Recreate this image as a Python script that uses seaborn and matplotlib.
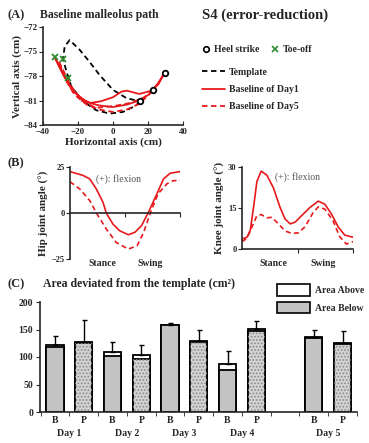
import numpy as np
import matplotlib
matplotlib.use("Agg")
import matplotlib.pyplot as plt
import seaborn as sns
import pandas as pd
from matplotlib.lines import Line2D
from matplotlib.patches import Patch, Rectangle

# panel A: malleolus paths (closed loops, cm)
tmpl_x = [15.2, 13.3, 5.7, -1.9, -9.5, -17.1, -23.8, -26.5, -28.6, -27.6, -24.8, -19, -13.3, -7.6, 0, 7.6, 15.2]
tmpl_y = [-81.1, -81.6, -82.4, -82.6, -82.2, -81.1, -79.3, -77.5, -75.9, -74.4, -73.6, -74.8, -76.3, -77.9, -79.7, -80.7, -81.1]
day1_x = [29.5, 26, 22, 15, 8, 5, 0, -7, -13, -18, -24, -29, -33.3, -28, -22, -15, -8, 0, 8, 15, 21, 26, 29.5]
day1_y = [-77.6, -79, -79.8, -80.2, -79.8, -79.9, -80.6, -81.1, -81.3, -80.8, -79.5, -77.6, -75.7, -78, -80, -81.2, -81.6, -81.8, -81.5, -81, -80.2, -78.8, -77.6]
day5_x = [22.9, 18, 10, 0, -10, -18, -24, -28, -31, -27, -22, -15, -8, 0, 8, 15, 20, 22.9]
day5_y = [-79.7, -80.6, -81.3, -81.7, -81.9, -81, -79.2, -77.5, -76.2, -78.5, -80.3, -81.5, -82.1, -82.4, -82.1, -81.4, -80.4, -79.7]
heel_x = [15.2, 22.9, 29.5]
heel_y = [-81.1, -79.7, -77.6]
toe_x = [-28.6, -33.3, -25.7]
toe_y = [-75.9, -75.7, -78.2]

# panel B: joint angles over the gait cycle (%)
hip1_x = [0, 12, 18, 24, 30, 33, 39, 45, 53, 59, 65, 71, 79, 85, 91, 100]
hip1_y = [22.5, 20.4, 18.5, 13, 5.8, 0, -6, -9.6, -11.8, -10.5, -6.9, 0, 10.4, 18.5, 21.6, 22.5]
hip5_x = [0, 9, 18, 24, 33, 42, 53, 61, 67, 73, 80, 88, 94, 100]
hip5_y = [17, 13, 6.7, 0, -8.7, -16, -19.6, -17.8, -10.5, 0, 10.4, 15.8, 17.6, 17.6]
knee1_x = [0, 4.5, 7.5, 10.4, 13.4, 17.3, 22.4, 28.4, 34.3, 38.8, 43.3, 47.8, 53.7, 61.2, 68.7, 74.6, 80.6, 86.6, 92.5, 100]
knee1_y = [3.7, 4.3, 6.9, 15.2, 24.7, 28.5, 27, 22.3, 15.2, 11, 9.2, 9.8, 12.2, 15.2, 17.5, 16.4, 12.8, 8.1, 5.1, 4.3]
knee5_x = [0, 4.5, 9, 13.4, 17.3, 22.4, 26.9, 32.8, 38.8, 44.8, 50.7, 56.7, 64.2, 68.7, 74.6, 82, 88, 94, 100]
knee5_y = [2.7, 3.9, 8.1, 12.2, 12.6, 11.4, 11.6, 9.2, 6.6, 5.7, 5.9, 8.1, 13.4, 15.4, 14.6, 10.4, 4.5, 1.8, 2.7]

# panel C: deviated area (cm^2)
bar_labels = ["B", "P", "B", "P", "B", "P", "B", "P", "B", "P"]
day_labels = ["Day 1", "Day 2", "Day 3", "Day 4", "Day 5"]
bar_pos = [0, 1, 2, 3, 4, 5, 6, 7, 9, 10]
area_below = [118, 126, 101, 96, 157.5, 128, 76, 148, 135, 124]
area_total = [122, 127, 110, 104, 159, 129, 88, 151, 136, 125]
area_err = [17, 40, 18, 17, 3, 21, 23, 14, 14, 22]

RED = "#e8191c"
GREEN = "#2e8b2e"
W, H = 369, 443

sns.set_style("ticks")
plt.rcParams["font.family"] = ["Liberation Serif", "DejaVu Serif"]
plt.rcParams["font.weight"] = "bold"
plt.rcParams["axes.linewidth"] = 1.2
plt.rcParams["hatch.linewidth"] = 0.8


def px(l, t, r, b):
    return [l / W, 1 - b / H, (r - l) / W, (b - t) / H]


def ftext(x, y, s, **kw):
    fig.text(x / W, 1 - y / H, s, **kw)


fig = plt.figure(figsize=(W / 100, H / 100), dpi=100)

# ---- (A) malleolus path
axA = fig.add_axes(px(43, 27, 183, 125))
sns.lineplot(x=tmpl_x, y=tmpl_y, sort=False, estimator=None, color="black", lw=1.3, ls=(0, (3, 2)), ax=axA)
sns.lineplot(x=day1_x, y=day1_y, sort=False, estimator=None, color=RED, lw=1.3, ax=axA)
sns.lineplot(x=day5_x, y=day5_y, sort=False, estimator=None, color=RED, lw=1.3, ls=(0, (3, 2)), ax=axA)
axA.plot(heel_x, heel_y, "o", mfc="white", mec="black", mew=1.3, ms=4)
axA.plot(toe_x, toe_y, "x", color=GREEN, mew=1.3, ms=4)
axA.set_xlim(-40, 40)
axA.set_ylim(-84, -72)
axA.set_xticks([-40, -20, 0, 20, 40])
axA.set_yticks([-84, -81, -78, -75, -72])
axA.tick_params(axis="x", direction="in", length=3, labelsize=6.5, pad=2)
axA.tick_params(axis="y", direction="out", length=3, labelsize=6.5, pad=1)
axA.set_xlabel("Horizontal axis (cm)", fontsize=8, fontweight="bold", labelpad=1)
axA.set_ylabel("Vertical axis (cm)", fontsize=8, fontweight="bold", labelpad=1)
sns.despine(ax=axA)

ftext(7, 15, "(A)", fontsize=9, va="center")
ftext(40, 15, "Baseline malleolus path", fontsize=8.5, va="center")
ftext(202, 15, "S4 (error-reduction)", fontsize=10.5, va="center")

mark_h = [Line2D([], [], ls="none", marker="o", mfc="white", mec="black", mew=1.2, ms=4),
          Line2D([], [], ls="none", marker="x", color=GREEN, mew=1.2, ms=4)]
fig.legend(mark_h, ["Heel strike", "Toe-off"], ncol=2, loc="center left",
           bbox_to_anchor=(196 / W, 1 - 50 / H), frameon=False, fontsize=7,
           handlelength=1, handletextpad=0.3, columnspacing=1.2, borderpad=0)
line_h = [Line2D([], [], color="black", lw=1.3, ls=(0, (3, 2))),
          Line2D([], [], color=RED, lw=1.3),
          Line2D([], [], color=RED, lw=1.3, ls=(0, (3, 2)))]
fig.legend(line_h, ["Template", "Baseline of Day1", "Baseline of Day5"], loc="upper left",
           bbox_to_anchor=(197 / W, 1 - 63 / H), frameon=False, fontsize=7,
           handlelength=2.4, handletextpad=0.4, labelspacing=0.85, borderpad=0)

# ---- (B) joint angles
ftext(7, 163, "(B)", fontsize=9, va="center")
axH = fig.add_axes(px(70, 167, 180, 259))
sns.lineplot(x=hip1_x, y=hip1_y, color=RED, lw=1.2, ax=axH)
sns.lineplot(x=hip5_x, y=hip5_y, color=RED, lw=1.2, ls=(0, (3, 2)), ax=axH)
axH.set_xlim(0, 100)
axH.set_ylim(-25, 25)
axH.set_yticks([-25, 0, 25])
axH.set_xticks([50, 100])
axH.set_xticklabels([])
axH.spines["bottom"].set_position(("data", 0))
axH.tick_params(axis="both", direction="out", length=3, labelsize=6, pad=1)
axH.set_ylabel("Hip joint angle (°)", fontsize=8, fontweight="bold", labelpad=2)
axH.text(0.44, 0.87, "(+): flexion", transform=axH.transAxes, fontsize=7,
         fontweight="normal", color="#555555", ha="center", va="center")
sns.despine(ax=axH)

axK = fig.add_axes(px(242, 167, 353, 249))
sns.lineplot(x=knee1_x, y=knee1_y, color=RED, lw=1.2, ax=axK)
sns.lineplot(x=knee5_x, y=knee5_y, color=RED, lw=1.2, ls=(0, (3, 2)), ax=axK)
axK.set_xlim(0, 100)
axK.set_ylim(0, 30)
axK.set_yticks([0, 15, 30])
axK.set_xticks([50, 100])
axK.set_xticklabels([])
axK.tick_params(axis="both", direction="out", length=3, labelsize=6, pad=1)
axK.set_ylabel("Knee joint angle (°)", fontsize=8, fontweight="bold", labelpad=2)
axK.text(0.5, 0.88, "(+): flexion", transform=axK.transAxes, fontsize=7,
         fontweight="normal", color="#555555", ha="center", va="center")
sns.despine(ax=axK)

for sx, wx in [(102, 150), (273, 323)]:
    ftext(sx, 263, "Stance", fontsize=7, ha="center", va="center")
    ftext(wx, 263, "Swing", fontsize=7, ha="center", va="center")

# ---- (C) deviated area
ftext(7, 284, "(C)", fontsize=9, va="center")
ftext(43, 284, "Area deviated from the template (cm²)", fontsize=8.5, va="center")
axC = fig.add_axes(px(40, 302, 357, 412))
df = pd.DataFrame({"pos": bar_pos, "total": area_total, "below": area_below, "lab": bar_labels})
sns.barplot(data=df, x="pos", y="total", native_scale=True, width=0.6, color="white",
            edgecolor="black", linewidth=1.3, saturation=1, ax=axC)
n0 = len(axC.patches)
sns.barplot(data=df, x="pos", y="below", native_scale=True, width=0.6, color="#c3c3c3",
            edgecolor="black", linewidth=1.3, saturation=1, ax=axC)
for p, lab in list(zip(axC.patches[n0:], bar_labels)):
    if lab == "P":
        p.set_facecolor("#d2d2d2")
        axC.add_patch(Rectangle(p.get_xy(), p.get_width(), p.get_height(), facecolor="none",
                                edgecolor="#8a8a8a", lw=0, hatch=".....", zorder=p.get_zorder() + 0.01))
axC.errorbar(bar_pos, area_total, yerr=[np.zeros(len(area_err)), area_err], fmt="none",
             ecolor="black", elinewidth=1, capsize=1.8, capthick=1, zorder=1)
axC.set_xlim(-0.52, 10.45)
axC.set_ylim(0, 200)
axC.set_yticks([0, 50, 100, 150, 200])
axC.set_xticks(bar_pos)
axC.set_xticklabels(bar_labels)
axC.set_xticks([p + 0.5 for p in range(-1, 11)], minor=True)
axC.tick_params(axis="x", which="major", length=0, labelsize=7, pad=3)
axC.tick_params(axis="x", which="minor", direction="out", length=3)
axC.tick_params(axis="y", direction="out", length=3, labelsize=7, pad=2)
axC.set_xlabel("")
axC.set_ylabel("")
for i, d in enumerate(day_labels):
    xc = (bar_pos[2 * i] + bar_pos[2 * i + 1]) / 2
    axC.text(xc, -0.2, d, transform=axC.get_xaxis_transform(), fontsize=7, ha="center", va="center")
sns.despine(ax=axC)

leg_h = [Patch(facecolor="white", edgecolor="black", lw=1.2),
         Patch(facecolor="#c3c3c3", edgecolor="black", lw=1.2)]
fig.legend(leg_h, ["Area Above", "Area Below"], loc="upper left",
           bbox_to_anchor=(272 / W, 1 - 279 / H), frameon=False, fontsize=7,
           handlelength=3.4, handleheight=1.5, handletextpad=0.5, labelspacing=0.6, borderpad=0)

fig.savefig("out.png", dpi=100)
